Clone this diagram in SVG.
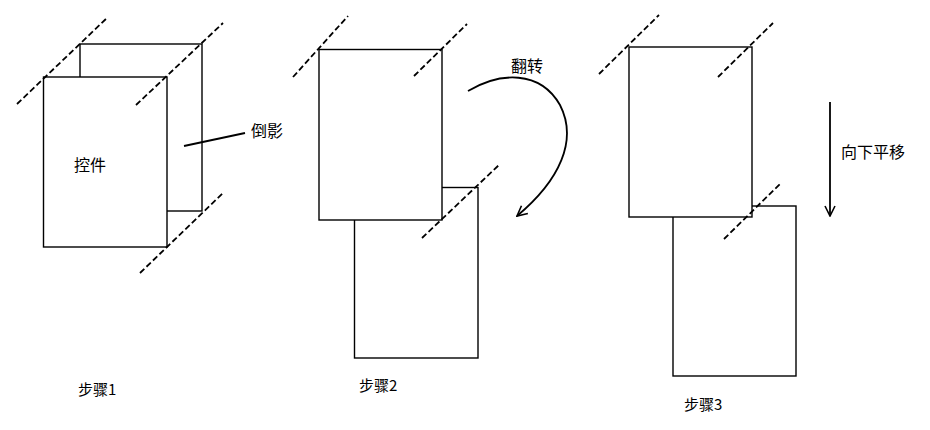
<svg xmlns="http://www.w3.org/2000/svg" width="930" height="430" viewBox="0 0 930 430">
<style>
.box{fill:#fff;stroke:#000;stroke-width:1.4}
.dash{fill:none;stroke:#000;stroke-width:1.8;stroke-dasharray:6,3}
.ln{fill:none;stroke:#000;stroke-width:1.8}
text{font-family:"Noto Sans CJK SC","Noto Sans",sans-serif;fill:#000}
.lb{font-size:16px}
.st{font-size:15px}
</style>
<defs>
<marker id="open" viewBox="0 0 12 12" refX="11" refY="6" markerWidth="12" markerHeight="12" markerUnits="userSpaceOnUse" orient="auto">
<path d="M1,1 L11,6 L1,11" fill="none" stroke="#000" stroke-width="1.6"/>
</marker>
</defs>
<rect width="930" height="430" fill="#fff"/>
<g id="step1">
<rect class="box" x="80" y="44" width="122" height="167"/>
<rect class="box" x="43.5" y="77" width="123.5" height="170"/>
<text class="lb" x="74" y="171">控件</text>
</g>
<g id="step1-reflection-label">
<line class="ln" x1="184" y1="146" x2="245" y2="133"/>
<text class="lb" x="251" y="137">倒影</text>
</g>
<g id="step1-caption"><text class="st" x="78" y="395">步骤1</text></g>
<g id="step2">
<rect class="box" x="354.5" y="187.5" width="123.5" height="170.5"/>
<rect class="box" x="319" y="49.5" width="123" height="170.5"/>
<text class="lb" x="511" y="72">翻转</text>
</g>
<g id="step2-caption"><text class="st" x="359" y="391">步骤2</text></g>
<g id="step3">
<rect class="box" x="673" y="206" width="123" height="170"/>
<rect class="box" x="629" y="47" width="123" height="170"/>
<text class="lb" x="841" y="158">向下平移</text>
</g>
<g id="step3-caption"><text class="st" x="684" y="410">步骤3</text></g>
<g id="connectors">
<line class="dash" x1="17" y1="104" x2="108" y2="17"/>
<line class="dash" x1="136" y1="105" x2="223" y2="23"/>
<line class="dash" x1="140" y1="273" x2="223" y2="193"/>
<line class="dash" x1="293" y1="77" x2="348" y2="16"/>
<line class="dash" x1="414" y1="76" x2="467" y2="24"/>
<line class="dash" x1="422" y1="238" x2="500" y2="164"/>
<line class="dash" x1="599" y1="74" x2="659" y2="15"/>
<line class="dash" x1="718" y1="77" x2="773" y2="23"/>
<line class="dash" x1="724" y1="239" x2="781" y2="183"/>
<path class="ln" d="M468,91 C500,72 540,70 560,105 C578,140 560,180 517,216" marker-end="url(#open)"/>
<line class="ln" x1="830" y1="102" x2="830" y2="216" marker-end="url(#open)"/>
</g>
</svg>
